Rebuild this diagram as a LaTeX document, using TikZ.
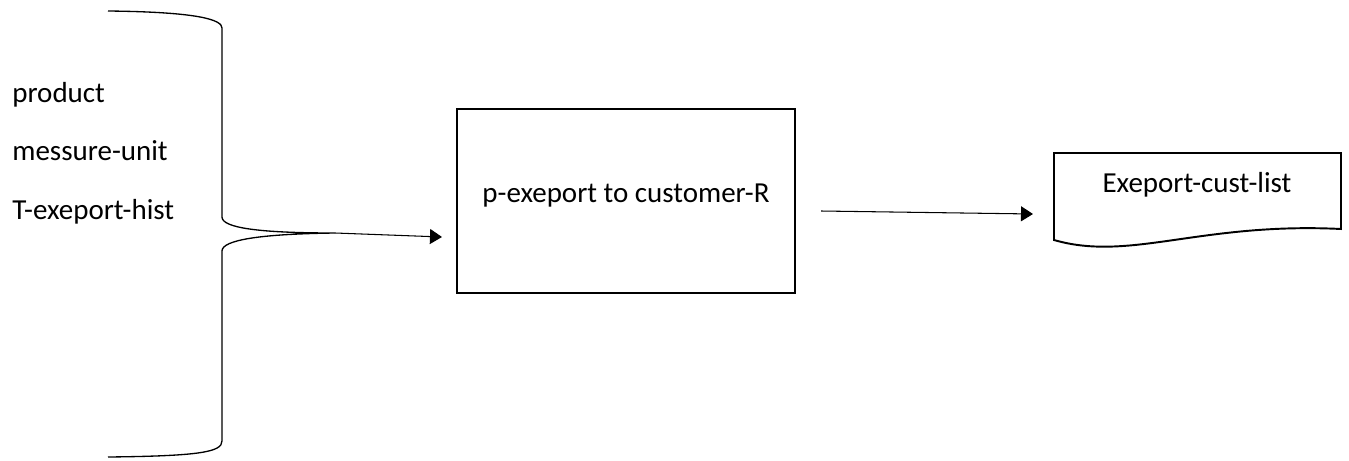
\documentclass[tikz,border=0pt]{standalone}
\usepackage{fontspec}
\setmainfont{Carlito}
\usetikzlibrary{arrows.meta,positioning}

\begin{document}
\begin{tikzpicture}[x=0.02cm, y=-0.02cm, >={Triangle[length=0.24cm, width=0.3cm]}, font=\fontsize{16.5pt}{20pt}\selectfont]
    \tikzstyle{proc}=[draw, line width=1.2pt, minimum width=6.76cm, minimum height=3.68cm, text height=0.48cm, text depth=0.44cm, inner sep=0pt]
    \tikzstyle{store}=[line width=1.1pt]
    \tikzstyle{item}=[anchor=base west, inner sep=0pt]
    \tikzstyle{flow}=[->, line width=0.6pt]
    \useasboundingbox (0,0) rectangle (1349,460);

    % inputs
    \node[item] (product) at (12,102) {product};
    \node[below=1.18cm of product.base west, item] (unit) {messure-unit};
    \node[below=1.18cm of unit.base west, item] (hist) {T-exeport-hist};
    \coordinate (tip) at (335,233);
    \draw[line width=0.75pt] (108,11) .. controls (200,12) and (222,20) .. (222,28) -- (222,217)
        .. controls (222,228) and (260,233) .. (tip)
        .. controls (260,234) and (222,240) .. (222,251) -- (222,441)
        .. controls (222,452) and (200,456) .. (108,457);

    % process and output
    \node[proc] (task) at (626,201) {p-exeport to customer-R};
    \draw[store] (1054,153) -- (1341,153) -- (1341,229) .. controls (1200,222) and (1130,262) .. (1054,240) -- cycle;
    \node[anchor=base, inner sep=0pt] (list) at (1197,192) {Exeport-cust-list};

    \coordinate (taskin) at ([shift={(-14,36)}]task.west);
    \coordinate (taskout) at ([shift={(25,10)}]task.east);
    \coordinate (listin) at (1033,214);
    \draw[flow] (tip) -- (taskin);
    \draw[flow] (taskout) -- (listin);
\end{tikzpicture}
\end{document}
